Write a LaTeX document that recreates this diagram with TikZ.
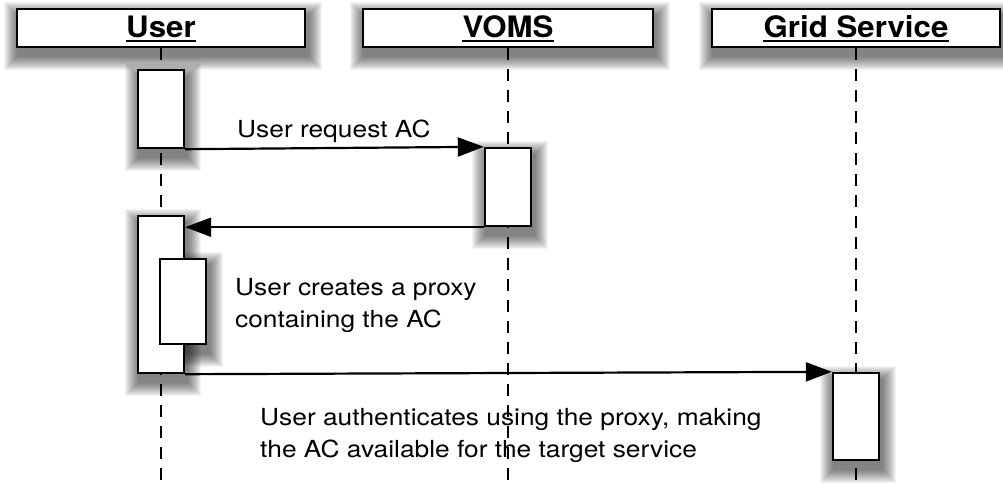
\documentclass[tikz,border=0pt]{standalone}
\usepackage{fontspec}
\setmainfont{TeX Gyre Heros}
\newfontfamily\bodyfont{TeX Gyre Heros}[FakeStretch=1.12]
\newfontfamily\headfont{TeX Gyre Heros}[FakeStretch=1.06]
\usetikzlibrary{arrows.meta,backgrounds}
\begin{document}
\begin{tikzpicture}[x=1pt,y=-1pt,
  head/.style={draw, fill=white, line width=2.4pt, minimum width=288pt, minimum height=38pt, inner sep=0pt},
  htxt/.style={font=\headfont\bfseries\fontsize{29.5}{34}\selectfont, inner sep=0pt, anchor=base},
  act/.style={draw, fill=white, line width=2.4pt, minimum width=46pt, inner sep=0pt},
  msg/.style={-{Triangle[length=26pt,width=19pt]}, line width=2.2pt},
  life/.style={dash pattern=on 12pt off 9pt, line width=2.6pt},
  lbl/.style={font=\bodyfont\fontsize{23.5}{32}\selectfont, align=left, inner sep=0pt, anchor=base west},
  uline/.style={line width=2.2pt}]
\useasboundingbox (0,0) rectangle (1003,484);
% headers
\node[head] (hU) at (161,28) {};
\node[head, minimum width=290pt] (hV) at (508,28) {};
\node[head] (hG) at (856,28) {};
\node[htxt] (tU) at (161,38) {User};
\node[htxt] (tV) at (508,38) {VOMS};
\node[htxt] (tG) at (856,38) {Grid Service};
\draw[uline] ([yshift=-3pt]tU.base west) -- ([yshift=-3pt]tU.base east);
\draw[uline] ([yshift=-3pt]tV.base west) -- ([yshift=-3pt]tV.base east);
\draw[uline] ([yshift=-3pt]tG.base west) -- ([yshift=-3pt]tG.base east);
% activation boxes
\node[act, minimum height=78pt] (U1) at (161,109) {};
\node[act, minimum height=78pt] (V1) at (508,187) {};
\node[act, minimum height=157pt] (U2) at (161,294.5) {};
\node[act, minimum height=85pt] (U3) at (183,301.5) {};
\node[act, minimum height=87pt] (G1) at (856,416.5) {};
% lifeline ends
\coordinate (eU) at (161,484);
\coordinate (eV) at (508,484);
\coordinate (eG) at (856,484);
\begin{pgfonlayer}{background}
  \foreach \n in {hU,hV,hG,U1,V1,U2,U3,G1}{
    \foreach \i in {1,...,14}{
      \fill[black,opacity=0.048] ([shift={(2-\i,8-\i)}]\n.north west) rectangle ([shift={(2+\i,8+\i)}]\n.south east);
    }
  }
  \draw[life] (hU.south) -- (eU);
  \draw[life] (hV.south) -- (eV);
  \draw[life] (hG.south) -- (eG);
\end{pgfonlayer}
% messages
\draw[msg] (U1.south east) -- (V1.north west);
\draw[msg] (V1.south west) -- (V1.south west -| U2.east);
\draw[msg] (U2.south east) -- (G1.north west);
% labels
\node[lbl] (l1) at (237,138) {User request AC};
\node[lbl, fill=white, inner sep=3pt] (l2) at (232,327) {User creates a proxy\\containing the AC};
\node[lbl] (l3) at (260,457) {User authenticates using the proxy, making\\the AC available for the target service};
\end{tikzpicture}
\end{document}
